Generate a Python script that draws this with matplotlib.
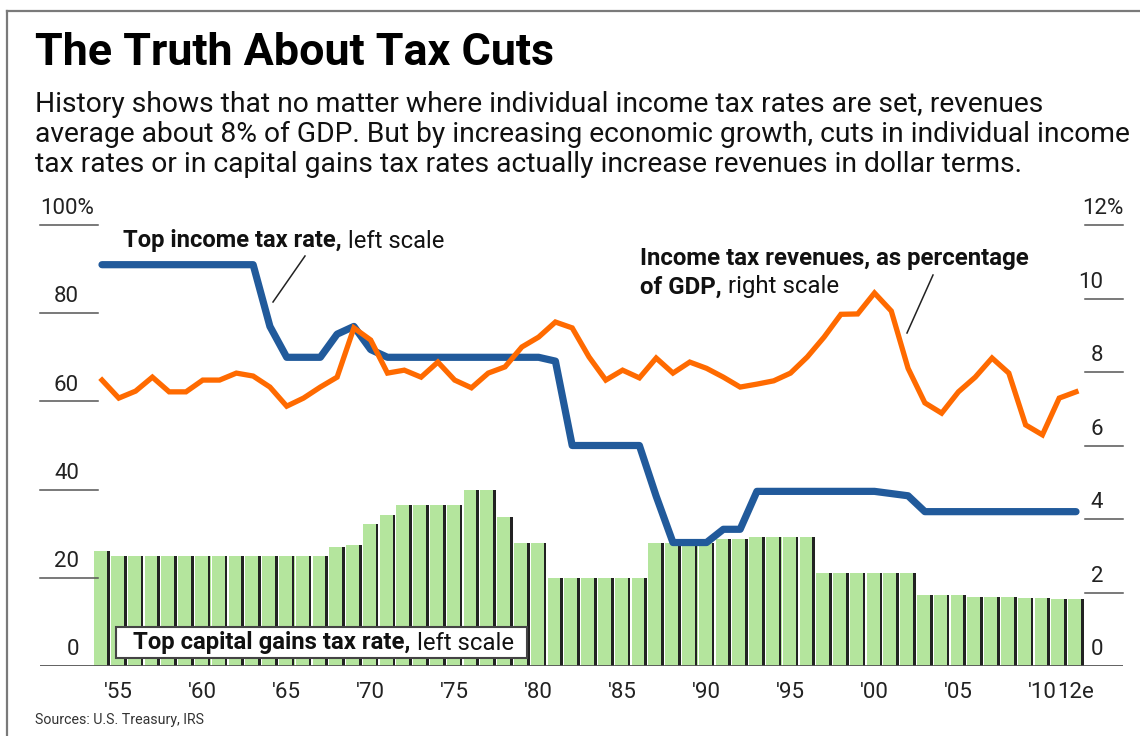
import numpy as np
import matplotlib
matplotlib.use("Agg")
import matplotlib.pyplot as plt
from matplotlib.patches import Rectangle
from matplotlib.lines import Line2D
import matplotlib.transforms as mtransforms

# ---------------- data ----------------
years = list(range(1954, 2013))

top_income_rate = [91, 91, 91, 91, 91, 91, 91, 91, 91, 91,       # 1954-1963
                   77, 70, 70, 70, 75.25, 77, 71.75,             # 1964-1970
                   70, 70, 70, 70, 70, 70, 70, 70, 70, 70,       # 1971-1980
                   69.13, 50, 50, 50, 50, 50,                    # 1981-1986
                   38.5, 28, 28, 28, 31, 31,                     # 1987-1992
                   39.6, 39.6, 39.6, 39.6, 39.6, 39.6, 39.6, 39.6,  # 1993-2000
                   39.1, 38.6,                                   # 2001-2002
                   35, 35, 35, 35, 35, 35, 35, 35, 35, 35]       # 2003-2012

cap_gains_rate = [26, 25, 25, 25, 25, 25, 25, 25, 25, 25, 25, 25, 25, 25,  # 1954-1967
                  26.9, 27.5, 32.2, 34.25, 36.5, 36.5, 36.5, 36.5,          # 1968-1975
                  39.9, 39.9, 33.9, 28, 28,                                 # 1976-1980
                  20, 20, 20, 20, 20, 20,                                   # 1981-1986
                  28, 28, 28, 28,                                           # 1987-1990
                  28.9, 28.9, 29.2, 29.2, 29.2, 29.2,                       # 1991-1996
                  21.2, 21.2, 21.2, 21.2, 21.2, 21.2,                       # 1997-2002
                  16.05, 16.05, 16.05, 15.7, 15.7, 15.6, 15.4, 15.4, 15.2, 15.2]  # 2003-2012

revenue_gdp = [7.78, 7.29, 7.48, 7.86, 7.46, 7.46, 7.78, 7.78, 7.97, 7.89,   # 1954-1963
               7.59, 7.07, 7.29, 7.59, 7.86, 9.2, 8.87, 7.97, 8.05, 7.86,    # 1964-1973
               8.27, 7.78, 7.57, 7.97, 8.14, 8.68, 8.95, 9.36, 9.2, 8.41,    # 1974-1983
               7.78, 8.05, 7.84, 8.38, 7.97, 8.27, 8.1, 7.86, 7.59, 7.67,    # 1984-1993
               7.76, 7.97, 8.41, 8.95, 9.57, 9.58, 10.15, 9.66, 8.1, 7.16,   # 1994-2003
               6.88, 7.46, 7.86, 8.38, 7.97, 6.56, 6.29, 7.29, 7.46]         # 2004-2012

left_ticks = [0, 20, 40, 60, 80, 100]
left_labels = ["0", "20", "40", "60", "80", "100%"]
right_ticks = [0, 2, 4, 6, 8, 10, 12]
right_labels = ["0", "2", "4", "6", "8", "10", "12%"]
x_ticks = [1955, 1960, 1965, 1970, 1975, 1980, 1985, 1990, 1995, 2000, 2005, 2010, 2012]
x_labels = ["'55", "'60", "'65", "'70", "'75", "'80", "'85", "'90", "'95", "'00", "'05", "'10", "12e"]

# ---------------- figure ----------------
W, H = 1140, 736
DPI = 100
plt.rcParams['font.family'] = ['Roboto', 'DejaVu Sans']
fig = plt.figure(figsize=(W / DPI, H / DPI), dpi=DPI)
fig.patch.set_facecolor('white')
renderer = fig.canvas.get_renderer()

BLUE = '#215a9b'
ORANGE = '#ff6a00'
GREEN = '#b4e59d'
TEXT = '#111111'
GRID = '#555555'
LABEL = '#222222'
TICK_FS = 16


def fx(x):
    return x / W


def fy(y):
    return 1 - y / H


def fit(t, target_px):
    for _ in range(3):
        bb = t.get_window_extent(renderer)
        t.set_fontsize(t.get_fontsize() * target_px / bb.width)
    return t


def rich(x, y, parts, size, color=TEXT, zorder=3, target=None):
    """Place consecutive text parts (bold/normal); optionally scale to a target width."""
    def place(sz):
        texts = []
        xx = x
        gap = 0.26 * sz * DPI / 72
        for s, w in parts:
            t = fig.text(fx(xx), fy(y), s, fontsize=sz, fontweight=w, color=color,
                         ha='left', va='center', zorder=zorder)
            xx += t.get_window_extent(renderer).width + gap
            texts.append(t)
        return texts, xx - gap - x
    texts, width = place(size)
    if target is not None:
        for t in texts:
            t.remove()
        size = size * target / width
        texts, width = place(size)
    return size


# frame lines (open on right and bottom)
fig.add_artist(Line2D([fx(7), fx(W)], [fy(11), fy(11)], color='#7a7a7a', lw=1.6))
fig.add_artist(Line2D([fx(7), fx(7)], [fy(11), fy(H)], color='#7a7a7a', lw=1.6))

# axes geometry
ax_left, ax_right = 40, 1123
ax_top, ax_bottom = 225, 666
ax = fig.add_axes([fx(ax_left), fy(ax_bottom), (ax_right - ax_left) / W,
                   (ax_bottom - ax_top) / H])
px_per_year = (1076 - 102) / 58.0
ax.set_xlim(1954 - (102 - ax_left) / px_per_year, 2012 + (ax_right - 1076) / px_per_year)
ax.set_ylim(0, 100)
for s in ax.spines.values():
    s.set_visible(False)
ax.set_xticks([])
ax.set_yticks([])
ax.patch.set_alpha(0)

# bars: green body with dark right edge
ax.bar(years, cap_gains_rate, width=0.93, color=GREEN, edgecolor='none', zorder=1)
ax.bar(np.array(years) + 0.30, cap_gains_rate, width=0.16, align='edge',
       color='#222222', edgecolor='none', zorder=1.1)

# top income tax rate
ax.plot(years, top_income_rate, color=BLUE, lw=5.2, solid_joinstyle='round',
        solid_capstyle='round', zorder=3)

# baseline
ax.axhline(0, color=GRID, lw=1.3, zorder=4)

# left ticks
trans = mtransforms.blended_transform_factory(ax.transAxes, ax.transData)
left_frac = (98 - ax_left) / (ax_right - ax_left)
for v, lab in zip(left_ticks, left_labels):
    if v > 0:
        ax.plot([0, left_frac], [v, v], color=GRID, lw=1.1, transform=trans,
                clip_on=False, zorder=4)
    if lab.endswith('%'):
        ax.text((40 - ax_left) / (ax_right - ax_left), v + 1.3, lab, transform=trans,
                ha='left', va='bottom', fontsize=TICK_FS, color=LABEL)
    else:
        ax.text((79 - ax_left) / (ax_right - ax_left), v + 1.3, lab, transform=trans,
                ha='right', va='bottom', fontsize=TICK_FS, color=LABEL)

# right axis (revenues)
ax2 = ax.twinx()
ax2.set_ylim(0, 12)
ax2.set_xlim(ax.get_xlim())
for s in ax2.spines.values():
    s.set_visible(False)
ax2.set_xticks([])
ax2.set_yticks([])
ax2.plot(years, revenue_gdp, color=ORANGE, lw=3.8, solid_joinstyle='miter', zorder=5)

trans2 = mtransforms.blended_transform_factory(ax2.transAxes, ax2.transData)
right_frac = (1085 - ax_left) / (ax_right - ax_left)
for v, lab in zip(right_ticks, right_labels):
    if v > 0:
        ax2.plot([right_frac, 1.0], [v, v], color=GRID, lw=1.1, transform=trans2,
                 clip_on=False, zorder=4)
    if lab.endswith('%'):
        ax2.text((1082 - ax_left) / (ax_right - ax_left), v + 0.16, lab, transform=trans2,
                 ha='left', va='bottom', fontsize=TICK_FS, color=LABEL)
    else:
        ax2.text((1103 - ax_left) / (ax_right - ax_left), v + 0.16, lab, transform=trans2,
                 ha='right', va='bottom', fontsize=TICK_FS, color=LABEL)

# x tick labels
xtrans = mtransforms.blended_transform_factory(ax.transData, fig.transFigure)
for xv, lab in zip(x_ticks, x_labels):
    ax.text(xv, fy(692), lab, transform=xtrans, ha='center', va='center',
            fontsize=TICK_FS, color=LABEL)

# ---------------- texts ----------------
title = fig.text(fx(35), fy(65), "The Truth About Tax Cuts", fontsize=30,
                 fontweight='bold', color='#000000', ha='left', va='baseline')
fit(title, 520)

sub_lines = [
    "History shows that no matter where individual income tax rates are set, revenues",
    "average about 8% of GDP. But by increasing economic growth, cuts in individual income",
    "tax rates or in capital gains tax rates actually increase revenues in dollar terms.",
]
sub_y = [104, 134, 164]
t2 = fig.text(fx(35), fy(sub_y[1]), sub_lines[1], fontsize=17, color=TEXT,
              ha='left', va='center')
fit(t2, 1093)
sub_size = t2.get_fontsize()
for i in (0, 2):
    fig.text(fx(35), fy(sub_y[i]), sub_lines[i], fontsize=sub_size, color=TEXT,
             ha='left', va='center')

# annotation: top income tax rate
rich(123, 241, [("Top income tax rate,", 'bold'), ("left scale", 'normal')], 14, target=322)
fig.add_artist(Line2D([fx(305), fx(273)], [fy(256), fy(302)], color='#222222', lw=1.1))

# annotation: revenues
sz = rich(640, 258, [("Income tax revenues, as percentage", 'bold')], 14, target=390)
rich(640, 287, [("of GDP,", 'bold'), ("right scale", 'normal')], sz)
fig.add_artist(Line2D([fx(933), fx(907)], [fy(275), fy(333)], color='#222222', lw=1.1))

# legend box for bars
fig.add_artist(Rectangle((fx(116), fy(658)), (527 - 116) / W, (658 - 627) / H,
                         transform=fig.transFigure, facecolor='white',
                         edgecolor='#444444', lw=1.5, zorder=6))
rich(133, 643, [("Top capital gains tax rate,", 'bold'), ("left scale", 'normal')], 14,
     zorder=7, target=382)

src = fig.text(fx(35), fy(720), "Sources: U.S. Treasury, IRS", fontsize=10,
               color='#333333', ha='left', va='center')
fit(src, 168)

fig.savefig("out.png", dpi=DPI, facecolor='white')
